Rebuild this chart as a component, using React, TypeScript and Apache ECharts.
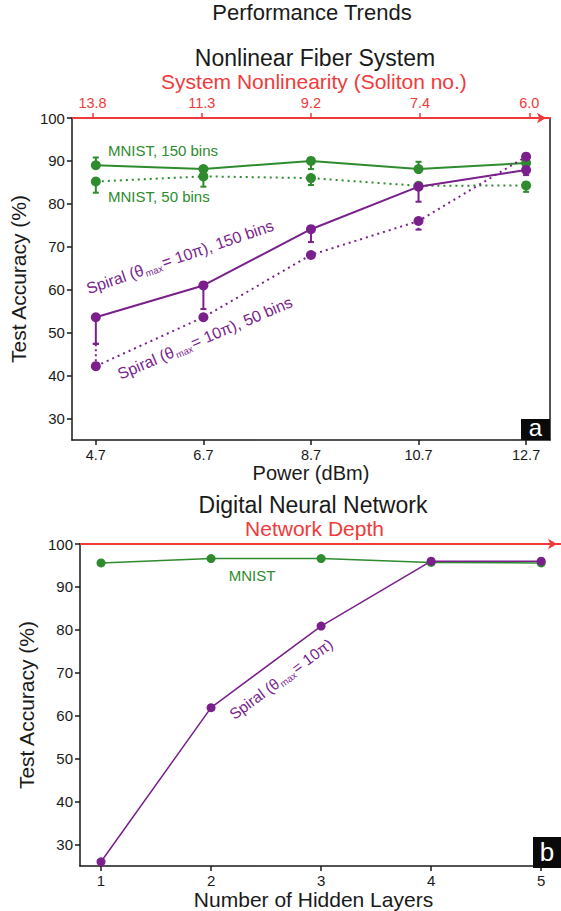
import React, { useEffect, useRef } from 'react';
import * as echarts from 'echarts';

// ---------- data ----------
const powerTicks = [4.7, 6.7, 8.7, 10.7, 12.7];
const solitonIdx = [0, 1, 2, 3, 4];
const solitonLabels = ['13.8', '11.3', '9.2', '7.4', '6.0'];
const accTicks = [30, 40, 50, 60, 70, 80, 90, 100];

const mnist150 = [89.0, 88.1, 90.0, 88.1, 89.5];
const mnist150Low = [89.0, 88.1, 88.1, 88.1, 88.5];
const mnist150High = [90.8, 88.1, 90.0, 89.8, 89.5];

const mnist50 = [85.2, 86.4, 86.0, 84.2, 84.3];
const mnist50Low = [82.6, 84.0, 84.4, 84.2, 82.8];
const mnist50High = [85.2, 86.4, 86.0, 84.2, 84.3];

const spiral150 = [53.6, 61.0, 74.1, 84.0, 87.9];
const spiral150Low = [47.4, 55.5, 71.1, 80.5, 86.7];
const spiral150High = [53.6, 61.0, 74.1, 84.0, 87.9];

const spiral50 = [42.2, 53.6, 68.1, 76.0, 91.0];
const spiral50Low = [42.2, 53.6, 68.1, 74.0, 91.0];
const spiral50High = [47.4, 53.6, 68.1, 76.0, 91.0];

const hiddenLayers = [1, 2, 3, 4, 5];
const dnnMnist = [95.6, 96.6, 96.6, 95.7, 95.6];
const dnnSpiral = [26.0, 61.9, 80.9, 96.0, 96.0];

// ---------- styles ----------
const FONT = 'Liberation Sans, Arial, Helvetica, sans-serif';
const GREEN = '#2e8b2e';
const PURPLE = '#7a1f8c';
const RED = '#f03a3a';
const INK = '#1a1a1a';

function pairs(xs: number[], ys: number[]) {
  return xs.map((x, i) => [x, ys[i]]);
}

function lineSeries(xs: number[], ys: number[], color: string, dotted: boolean, xi: number, yi: number, size: number, width: number) {
  return {
    type: 'line',
    xAxisIndex: xi,
    yAxisIndex: yi,
    data: pairs(xs, ys),
    symbol: 'circle',
    symbolSize: size,
    itemStyle: { color },
    lineStyle: { color, width, type: dotted ? [2, 4] : 'solid' },
    z: 4,
    silent: true,
  };
}

function errSeries(xs: number[], lows: number[], highs: number[], color: string, dotted: boolean) {
  return {
    type: 'custom',
    xAxisIndex: 0,
    yAxisIndex: 0,
    data: xs.map((x, i) => [x, lows[i], highs[i]]).filter((d) => d[1] !== d[2]),
    encode: { x: 0, y: [1, 2] },
    z: 3,
    silent: true,
    renderItem: (params: any, api: any) => {
      const x = api.value(0);
      const p1 = api.coord([x, api.value(1)]);
      const p2 = api.coord([x, api.value(2)]);
      const cap = { stroke: color, lineWidth: 2 };
      return {
        type: 'group',
        children: [
          { type: 'line', shape: { x1: p1[0], y1: p1[1], x2: p2[0], y2: p2[1] }, style: { stroke: color, lineWidth: 2, lineDash: dotted ? [2, 3] : null } },
          { type: 'line', shape: { x1: p1[0] - 3, y1: p1[1], x2: p1[0] + 3, y2: p1[1] }, style: cap },
          { type: 'line', shape: { x1: p2[0] - 3, y1: p2[1], x2: p2[0] + 3, y2: p2[1] }, style: cap },
        ],
      };
    },
  };
}

function spiralText(x: number, y: number, deg: number, tail: string, size: number) {
  return {
    type: 'text',
    x,
    y,
    rotation: (deg * Math.PI) / 180,
    z: 10,
    style: {
      text: '{a|Spiral (θ}{s|max}{a|= 10π)' + tail + '}',
      rich: {
        a: { fontSize: size, fill: PURPLE, fontFamily: FONT, lineHeight: 19, verticalAlign: 'middle' },
        s: { fontSize: 9.5, fill: PURPLE, fontFamily: FONT, lineHeight: 19, verticalAlign: 'bottom', padding: [0, 1, 0, 1] },
      },
      align: 'center',
      verticalAlign: 'middle',
    },
  };
}

const blackAxisLine = { show: true, onZero: false, lineStyle: { color: INK, width: 1.5 } };
const tickStyle = { lineStyle: { color: INK, width: 1.5 }, length: 5 };

export default function App() {
  const ref = useRef<HTMLDivElement>(null);

  useEffect(() => {
    if (!ref.current) return;
    const chart = echarts.init(ref.current, undefined, { renderer: 'svg' });
    const option: any = {
      animation: false,
      textStyle: { fontFamily: FONT },
      title: [
        { text: 'Performance Trends', left: 312, top: 1, textAlign: 'center', padding: 0, textStyle: { fontSize: 22, fontWeight: 'normal', color: INK, fontFamily: FONT } },
        { text: 'Nonlinear Fiber System', left: 315, top: 46, textAlign: 'center', padding: 0, textStyle: { fontSize: 23, fontWeight: 'normal', color: INK, fontFamily: FONT } },
        { text: 'Digital Neural Network', left: 313, top: 493, textAlign: 'center', padding: 0, textStyle: { fontSize: 23, fontWeight: 'normal', color: INK, fontFamily: FONT } },
      ],
      grid: [
        { left: 70, top: 118, width: 480, height: 322 },
        { left: 80, top: 544, width: 481, height: 324 },
      ],
      xAxis: [
        {
          gridIndex: 0, type: 'value', position: 'bottom', min: 4.2556, max: 13.1444,
          axisLine: blackAxisLine,
          axisTick: { ...tickStyle, customValues: powerTicks },
          axisLabel: { customValues: powerTicks, formatter: (v: number) => v.toFixed(1), fontSize: 14.5, color: INK, margin: 7 },
          splitLine: { show: false },
          name: 'Power (dBm)', nameLocation: 'middle', nameGap: 19,
          nameTextStyle: { fontSize: 20, color: INK, fontFamily: FONT },
        },
        {
          gridIndex: 0, type: 'value', position: 'top', min: -0.189, max: 4.19,
          axisLine: { show: true, onZero: false, lineStyle: { color: RED, width: 2 }, symbol: ['none', 'arrow'], symbolSize: [8, 9], symbolOffset: [0, -4] },
          axisTick: { customValues: solitonIdx, length: 5, lineStyle: { color: RED, width: 1.5 } },
          axisLabel: { customValues: solitonIdx, formatter: (v: number) => solitonLabels[Math.round(v)], fontSize: 14.5, color: RED, margin: 8 },
          splitLine: { show: false },
          name: 'System Nonlinearity (Soliton no.)', nameLocation: 'middle', nameGap: 26,
          nameTextStyle: { fontSize: 21, color: RED, fontFamily: FONT, padding: [0, 0, 0, 6] },
        },
        {
          gridIndex: 1, type: 'value', position: 'bottom', min: 0.809, max: 5.18,
          axisLine: blackAxisLine,
          axisTick: { ...tickStyle, customValues: hiddenLayers },
          axisLabel: { customValues: hiddenLayers, fontSize: 15, color: INK, margin: 7 },
          splitLine: { show: false },
          name: 'Number of Hidden Layers', nameLocation: 'middle', nameGap: 19,
          nameTextStyle: { fontSize: 21, color: INK, fontFamily: FONT, padding: [0, 0, 0, -14] },
        },
        {
          gridIndex: 1, type: 'value', position: 'top', min: 0.809, max: 5.18,
          axisLine: { show: true, onZero: false, lineStyle: { color: RED, width: 2 }, symbol: ['none', 'arrow'], symbolSize: [8, 9], symbolOffset: [0, -4] },
          axisTick: { show: false },
          axisLabel: { show: false },
          splitLine: { show: false },
          name: 'Network Depth', nameLocation: 'middle', nameGap: 5,
          nameTextStyle: { fontSize: 21, color: RED, fontFamily: FONT, padding: [0, 0, 0, -12] },
        },
      ],
      yAxis: [
        {
          gridIndex: 0, type: 'value', min: 25, max: 100,
          axisLine: blackAxisLine,
          axisTick: { ...tickStyle, customValues: accTicks },
          axisLabel: { customValues: accTicks, fontSize: 15, color: INK, margin: 7 },
          splitLine: { show: false },
          name: 'Test Accuracy (%)', nameLocation: 'middle', nameGap: 40,
          nameTextStyle: { fontSize: 21, color: INK, fontFamily: FONT },
        },
        {
          gridIndex: 0, type: 'value', position: 'right', min: 25, max: 100,
          axisLine: blackAxisLine, axisTick: { show: false }, axisLabel: { show: false }, splitLine: { show: false },
        },
        {
          gridIndex: 1, type: 'value', min: 25, max: 100,
          axisLine: blackAxisLine,
          axisTick: { ...tickStyle, customValues: accTicks },
          axisLabel: { customValues: accTicks, fontSize: 15, color: INK, margin: 7 },
          splitLine: { show: false },
          name: 'Test Accuracy (%)', nameLocation: 'middle', nameGap: 42,
          nameTextStyle: { fontSize: 21, color: INK, fontFamily: FONT },
        },
      ],
      series: [
        errSeries(powerTicks, mnist150Low, mnist150High, GREEN, false),
        errSeries(powerTicks, mnist50Low, mnist50High, GREEN, false),
        errSeries(powerTicks, spiral150Low, spiral150High, PURPLE, false),
        errSeries(powerTicks, spiral50Low, spiral50High, PURPLE, true),
        lineSeries(powerTicks, mnist150, GREEN, false, 0, 0, 10, 2),
        lineSeries(powerTicks, mnist50, GREEN, true, 0, 0, 10, 2),
        lineSeries(powerTicks, spiral150, PURPLE, false, 0, 0, 10, 2),
        lineSeries(powerTicks, spiral50, PURPLE, true, 0, 0, 10, 2),
        lineSeries(hiddenLayers, dnnMnist, GREEN, false, 2, 2, 9, 1.5),
        lineSeries(hiddenLayers, dnnSpiral, PURPLE, false, 2, 2, 9, 1.5),
      ],
      graphic: [
        { type: 'text', x: 108, y: 150, z: 10, style: { text: 'MNIST, 150 bins', fill: GREEN, fontSize: 15, fontFamily: FONT, align: 'left', verticalAlign: 'middle' } },
        { type: 'text', x: 108, y: 196, z: 10, style: { text: 'MNIST, 50 bins', fill: GREEN, fontSize: 15, fontFamily: FONT, align: 'left', verticalAlign: 'middle' } },
        spiralText(180, 257, 19, ', 150 bins', 16),
        spiralText(205, 338, 23, ', 50 bins', 16),
        { type: 'text', x: 252, y: 575, z: 10, style: { text: 'MNIST', fill: GREEN, fontSize: 15, fontFamily: FONT, align: 'center', verticalAlign: 'middle' } },
        spiralText(281, 679, 36.5, '', 15.5),
        { type: 'rect', x: 521, y: 419, z: 10, shape: { width: 29, height: 21 }, style: { fill: '#0a0a0a' } },
        { type: 'text', x: 535.5, y: 427, z: 11, style: { text: 'a', fill: '#ffffff', fontSize: 24, fontFamily: FONT, align: 'center', verticalAlign: 'middle' } },
        { type: 'rect', x: 533, y: 837, z: 10, shape: { width: 28, height: 31 }, style: { fill: '#0a0a0a' } },
        { type: 'text', x: 547, y: 852, z: 11, style: { text: 'b', fill: '#ffffff', fontSize: 26, fontFamily: FONT, align: 'center', verticalAlign: 'middle' } },
      ],
    };
    chart.setOption(option);
    return () => chart.dispose();
  }, []);

  return <div ref={ref} style={{ position: 'absolute', left: 0, top: 0, width: 561, height: 911 }} />;
}
